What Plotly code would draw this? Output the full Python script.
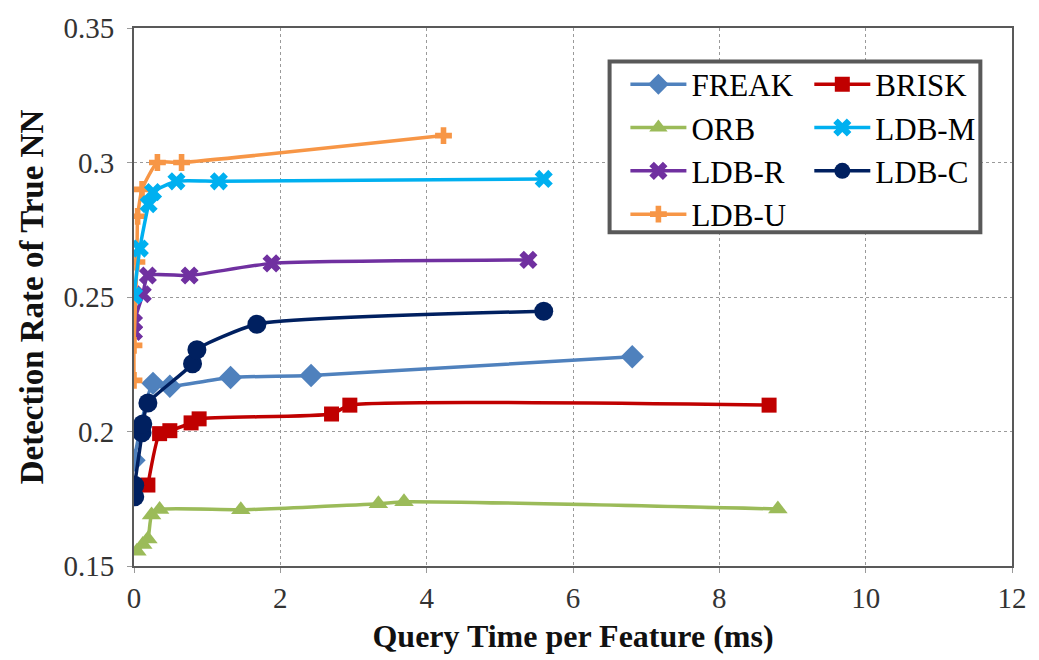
import plotly.graph_objects as go

# ---- data ----
freak_x = [0.0, 0.26, 0.49, 1.32, 2.42, 6.81]
freak_y = [0.1893, 0.2179, 0.2168, 0.2201, 0.2208, 0.2278]

brisk_x = [0.19, 0.35, 0.49, 0.78, 0.89, 2.70, 2.95, 8.68]
brisk_y = [0.1801, 0.1992, 0.2003, 0.2032, 0.2047, 0.2065, 0.2098, 0.2098]

orb_x = [0.04, 0.12, 0.19, 0.24, 0.35, 1.46, 3.34, 3.69, 8.80]
orb_y = [0.1555, 0.1580, 0.1600, 0.1690, 0.1710, 0.1709, 0.1731, 0.1739, 0.1712]

ldbm_x = [0.0, 0.08, 0.20, 0.26, 0.58, 1.16, 5.60]
ldbm_y = [0.2505, 0.2680, 0.2845, 0.2890, 0.2930, 0.2930, 0.2939]

ldbr_x = [0.0, 0.0, 0.12, 0.19, 0.76, 1.88, 5.39]
ldbr_y = [0.2370, 0.2405, 0.2510, 0.2580, 0.2580, 0.2625, 0.2638]

ldbc_x = [0.01, 0.01, 0.11, 0.12, 0.19, 0.80, 0.86, 1.68, 5.60]
ldbc_y = [0.1757, 0.1800, 0.1995, 0.2028, 0.2106, 0.2252, 0.2304, 0.2399, 0.2447]

ldbu_x = [0.0, 0.0, 0.04, 0.05, 0.11, 0.32, 0.65, 4.23]
ldbu_y = [0.2190, 0.2320, 0.2630, 0.2800, 0.2900, 0.3000, 0.3000, 0.3100]

x_ticks = [0, 2, 4, 6, 8, 10, 12]
y_ticks = [0.15, 0.2, 0.25, 0.3, 0.35]

# (name, x, y, colour, marker, size, legend column)
series = [
    ("FREAK", freak_x, freak_y, "#4F81BD", "diamond", 18, "legend"),
    ("ORB", orb_x, orb_y, "#9BBB59", "triangle-up", 17, "legend"),
    ("LDB-R", ldbr_x, ldbr_y, "#7030A0", "x", 16, "legend"),
    ("LDB-U", ldbu_x, ldbu_y, "#F79646", "cross", 14, "legend"),
    ("BRISK", brisk_x, brisk_y, "#C00000", "square", 15, "legend2"),
    ("LDB-M", ldbm_x, ldbm_y, "#00B0F0", "x", 16, "legend2"),
    ("LDB-C", ldbc_x, ldbc_y, "#002060", "circle", 19, "legend2"),
]

fig = go.Figure()
for name, xs, ys, col, sym, sz, leg in series:
    fig.add_trace(go.Scatter(
        x=xs, y=ys, name=name, mode="lines+markers", legend=leg,
        line=dict(color=col, width=3.5, shape="spline", smoothing=0.5),
        marker=dict(symbol=sym, size=sz, color=col, line=dict(width=0)),
    ))

serif = "Liberation Serif"
W, H = 1039, 660
L, R, T, B = 134, 17, 22, 93
pw, ph = W - L - R, H - T - B


def px_x(p):
    return (p - L) / pw


def px_y(p):
    return (H - B - p) / ph


leg_common = dict(
    orientation="v", xanchor="left", yanchor="top",
    bgcolor="rgba(255,255,255,0)", borderwidth=0, itemwidth=56,
    font=dict(family=serif, size=31, color="black"),
    tracegroupgap=0,
)

fig.update_layout(
    width=W, height=H,
    margin=dict(l=L, r=R, t=T, b=B),
    paper_bgcolor="white", plot_bgcolor="white",
    font=dict(family=serif, color="#333333"),
    legend=dict(x=px_x(631), y=px_y(52), **leg_common),
    legend2=dict(x=px_x(817), y=px_y(52), **leg_common),
    shapes=[dict(
        type="rect", xref="paper", yref="paper", layer="above",
        x0=px_x(615), x1=px_x(990), y0=px_y(56), y1=px_y(229),
        line=dict(color="#595959", width=4), fillcolor="white",
    )],
)
fig.update_xaxes(
    range=[0, 12], tickvals=x_ticks,
    showline=True, mirror=True, linecolor="#595959", linewidth=2,
    showgrid=True, gridcolor="#9a9a9a", gridwidth=1, griddash="3px,3px",
    zeroline=False,
    ticks="outside", ticklen=5, tickcolor="#9a9a9a",
    tickfont=dict(family=serif, size=29, color="#333333"),
    title=dict(text="<b>Query Time per Feature (ms)</b>",
               font=dict(family=serif, size=32, color="#111111"), standoff=12),
)
fig.update_yaxes(
    range=[0.15, 0.35], tickvals=y_ticks,
    showline=True, mirror=True, linecolor="#595959", linewidth=2,
    showgrid=True, gridcolor="#9a9a9a", gridwidth=1, griddash="3px,3px",
    zeroline=False,
    ticks="outside", ticklen=5, tickcolor="#9a9a9a", ticklabelstandoff=7,
    tickfont=dict(family=serif, size=29, color="#333333"),
    title=dict(text="<b>Detection Rate of True NN</b>",
               font=dict(family=serif, size=33, color="#111111"), standoff=10),
)

fig.write_html("out.html")
